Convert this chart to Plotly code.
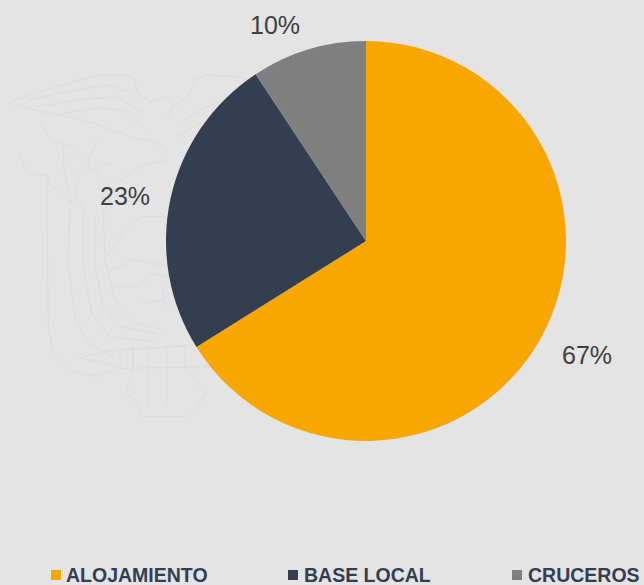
import plotly.graph_objects as go

categories = ["ALOJAMIENTO", "BASE LOCAL", "CRUCEROS"]
slice_sizes = [66.1, 24.6, 9.3]
percent_labels = ["67%", "23%", "10%"]
colors = ["#F8A600", "#333F50", "#7F7F7F"]

W, H = 644, 585
BG = "#E4E4E4"
FAINT = "#DDDDDD"

def px(x):
    return x / W

def py(y):
    return 1 - y / H

# Faint watermark emblem, outlines in reference pixels (drawn under the pie)
def z(points):
    return [(a / 3, b / 3 + 60) for a, b in points]

def path(points, close=False):
    d = "M " + " L ".join(f"{a:.1f} {b:.1f}" for a, b in points)
    return d + (" Z" if close else "")

emblem = [
    # left wing
    [(25,128),(120,95),(220,65),(300,45),(380,45),(405,60),(410,95),(450,125),(500,110),(520,140),(500,175)],
    [(25,128),(100,150),(180,165),(250,180),(340,210),(400,235),(470,245),(500,270)],
    [(80,120),(200,95),(320,75),(400,100)],
    [(110,140),(230,120),(350,110),(430,160)],
    [(190,160),(290,145),(370,150),(440,210)],
    # right wing (above the pie)
    [(520,140),(570,100),(585,60),(620,45),(700,50),(765,60)],
    [(540,190),(600,150),(690,110),(760,85)],
    [(530,230),(590,195),(660,150),(720,115)],
    # branches
    [(120,185),(150,240),(215,260),(250,295),(325,370)],
    [(55,275),(80,340),(150,350),(140,365),(215,430)],
    [(190,260),(192,330),(215,430)],
    [(290,240),(265,300),(270,340),(335,305)],
    [(240,340),(225,400),(260,470)],
    # shield outer
    [(140,365),(145,800),(160,880),(220,935),(290,950),(350,930)],
    [(210,440),(205,620),(225,770),(265,850),(340,890)],
    [(250,460),(250,620),(275,760),(330,830),(460,845)],
    [(285,470),(285,620),(310,740),(360,800),(470,820)],
    [(310,460),(315,600),(345,720),(410,790),(490,810)],
    [(310,460),(345,375),(420,320),(500,300)],
    # inner landscape
    [(320,590),(370,520),(420,470),(500,470)],
    [(320,640),(400,600),(460,610),(500,620)],
    [(340,680),(420,680),(450,640),(500,650)],
    [(430,730),(490,720),(510,740)],
    [(490,680),(490,740)],
    # fasces and base
    [(235,895),(300,880),(360,870),(590,855)],
    [(235,895),(300,905),(360,925),(640,920)],
    [(360,860),(360,925)],
    [(400,855),(400,925),(375,1000),(405,1020),(430,1070),(500,1070)],
    [(445,855),(445,1040)],
    [(500,855),(500,1040)],
    [(555,855),(555,920),(620,1000),(590,1040),(560,1070),(500,1070)],
]
shapes = [
    dict(type="path", path=path(z(p)), xref="x", yref="y", layer="below",
         line=dict(color=FAINT, width=1), fillcolor="rgba(0,0,0,0)")
    for p in emblem
]

# Legend swatches
for c, x in zip(colors, [51, 288, 512]):
    shapes.append(dict(type="rect", xref="paper", yref="paper",
                       x0=px(x), x1=px(x + 10), y0=py(580), y1=py(570),
                       fillcolor=c, line=dict(width=0)))

annotations = [
    dict(text=f"<b>{n}</b>", x=px(x), y=py(575), xref="paper", yref="paper",
         xanchor="left", yanchor="middle", showarrow=False,
         font=dict(size=19.5, color="#333F50", family="Liberation Sans"))
    for n, x in zip(categories, [64, 302, 526])
]
annotations += [
    dict(text=t, x=px(x), y=py(y), xref="paper", yref="paper",
         xanchor="center", yanchor="middle", showarrow=False,
         font=dict(size=25, color="#404040", family="Liberation Sans"))
    for t, (x, y) in zip(percent_labels, [(587, 355), (125, 196), (275, 25)])
]

fig = go.Figure()
fig.add_trace(go.Pie(
    labels=categories, values=slice_sizes, sort=False, direction="clockwise", rotation=0,
    marker=dict(colors=colors, line=dict(width=0)),
    textinfo="none",
    domain=dict(x=[px(166), px(566)], y=[py(441), py(41)]),
    automargin=False, showlegend=False, hoverinfo="label",
))
fig.update_layout(
    width=W, height=H, margin=dict(l=0, r=0, t=0, b=0),
    paper_bgcolor=BG, plot_bgcolor=BG,
    font=dict(family="Liberation Sans"),
    xaxis=dict(range=[0, W], visible=False, fixedrange=True),
    yaxis=dict(range=[H, 0], visible=False, fixedrange=True),
    shapes=shapes, annotations=annotations,
)
fig.write_html("out.html", config=dict(displayModeBar=False),
               post_script="document.body.style.margin='0';")
